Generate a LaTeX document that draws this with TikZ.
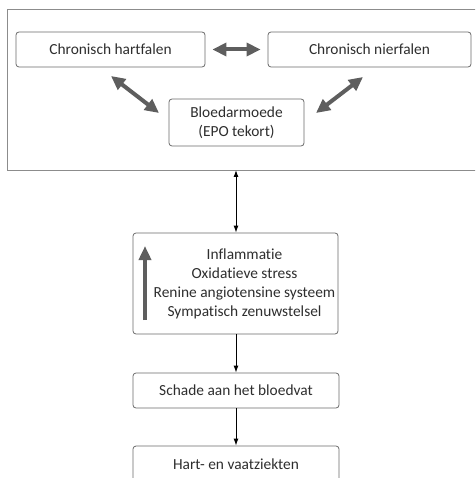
\documentclass[tikz,border=0pt]{standalone}
\usepackage{fontspec}
\setmainfont{Carlito}[Ligatures=NoCommon]
\usetikzlibrary{arrows.meta}
\definecolor{boxline}{HTML}{6A6A6A}
\definecolor{fatarrow}{HTML}{5E5E5E}
\definecolor{frameline}{HTML}{8C8C8C}
\definecolor{txt}{HTML}{2E2E2E}
\begin{document}
\begin{tikzpicture}[x=1pt,y=-1pt,
  lbl/.style={font=\fontsize{15.4}{19}\selectfont,text=txt,align=center},
  box/.style={lbl,draw=boxline,line width=0.8pt,rounded corners=3pt,fill=white,
    inner sep=0pt},
  fat/.style={draw=fatarrow,line width=4pt,
    {Triangle[width=13pt,length=14pt]}-{Triangle[width=13pt,length=14pt]},
    color=fatarrow},
  thin/.style={draw=black,line width=1pt,-{Latex[length=7pt,width=5pt]}}]
\useasboundingbox (0,0) rectangle (475,478);
\begin{scope}
\clip (0,0) rectangle (475,478);
% frame around the three interacting conditions
\draw[frameline,line width=0.9pt] (7,9) rectangle (490,170);
\node[box,minimum width=189pt,minimum height=35pt] (hf) at (110.5,49.5) {Chronisch hartfalen};
\node[box,minimum width=203pt,minimum height=35pt] (nf) at (369.5,49.5) {Chronisch nierfalen};
\node[box,minimum width=135pt,minimum height=47pt] (bl) at (236.5,122.5) {Bloedarmoede\\(EPO tekort)};
% mechanisms
\node[box,minimum width=205pt,minimum height=101pt] (mech) at (235.5,283.5) {};
\node[lbl,inner sep=0pt] (mtxt) at (244.5,283.5)
  {Inflammatie\\Oxidatieve stress\\Renine angiotensine systeem\\Sympatisch zenuwstelsel};
\coordinate (upb) at (145,320);
\coordinate (upt) at (145,246);
\draw[fatarrow,line width=4pt,-{Triangle[width=12pt,length=14pt]}] (upb) -- (upt);
\node[box,minimum width=206pt,minimum height=35pt] (sc) at (236,390.5) {Schade aan het bloedvat};
\node[box,minimum width=206pt,minimum height=36pt] (hv) at (236,464) {Hart- en vaatziekten};
% thick double arrows between the conditions
\draw[fat,shorten <=7pt,shorten >=7pt] (hf.east) -- (nf.west);
\coordinate (la) at (111,76);
\coordinate (lb) at (159,113);
\coordinate (ra) at (363,77);
\coordinate (rb) at (316,113);
\draw[fat] (la) -- (lb);
\draw[fat] (ra) -- (rb);
% thin connectors down the chain
\coordinate (fb) at (236,170);
\draw[thin,{Latex[length=7pt,width=5pt]}-{Latex[length=7pt,width=5pt]}] (fb) -- (mech.north -| fb);
\draw[thin] (mech.south -| fb) -- (sc.north -| fb);
\draw[thin] (sc.south -| fb) -- (hv.north -| fb);
\end{scope}
\end{tikzpicture}
\end{document}
